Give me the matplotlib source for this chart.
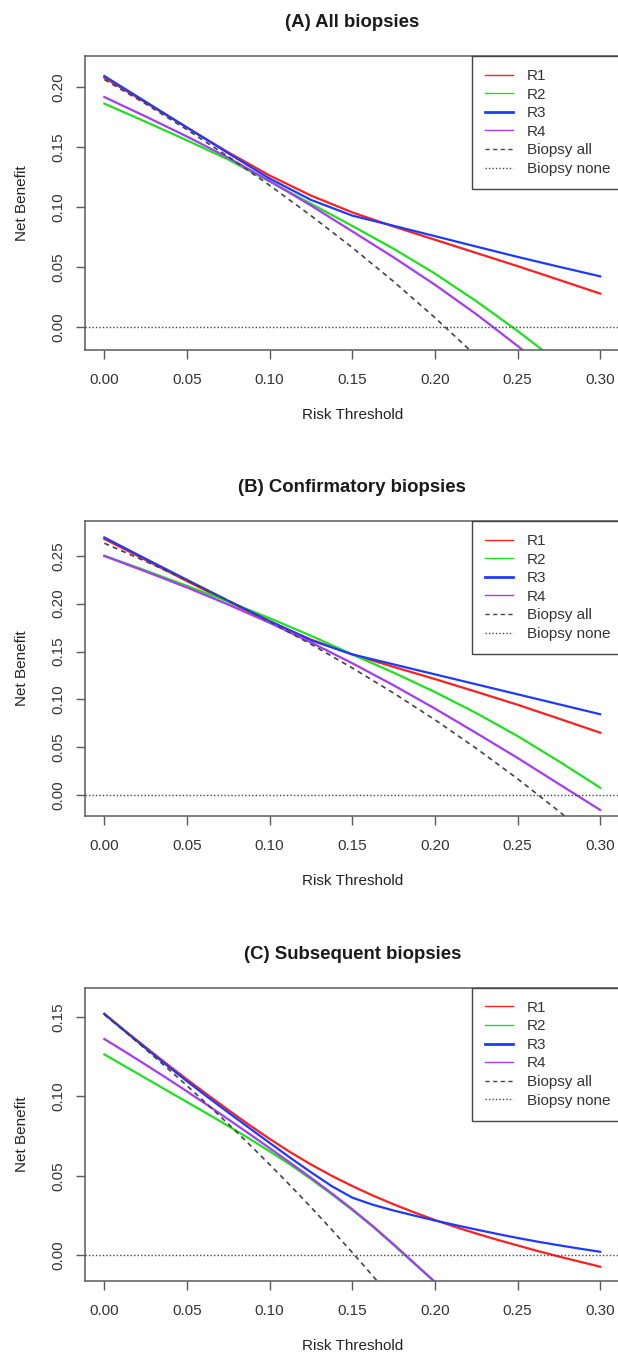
import matplotlib
matplotlib.use("Agg")
import matplotlib.pyplot as plt
from matplotlib.lines import Line2D

plt.rcParams['font.family'] = ['Liberation Sans', 'DejaVu Sans']

# risk thresholds (finer grid for panel C, which bends sharply)
thr = [0.0, 0.025, 0.05, 0.075, 0.10, 0.125, 0.15, 0.175, 0.20, 0.225, 0.25, 0.275, 0.30]
thr_c = [0.0, 0.0125, 0.025, 0.0375, 0.05, 0.0625, 0.075, 0.0875, 0.10, 0.1125, 0.125,
         0.1375, 0.15, 0.1625, 0.175, 0.1875, 0.20, 0.2125, 0.225, 0.2375, 0.25,
         0.2625, 0.275, 0.2875, 0.30]

# (A) All biopsies
a_r1 = [0.208, 0.1873, 0.1665, 0.1458, 0.1265, 0.1098, 0.0958, 0.084, 0.073, 0.062, 0.051, 0.0396, 0.0281]
a_r2 = [0.1864, 0.1713, 0.1558, 0.1398, 0.1215, 0.103, 0.0845, 0.0655, 0.0448, 0.0218, -0.003, -0.0295]
a_r3 = [0.2094, 0.188, 0.1665, 0.145, 0.124, 0.1062, 0.0931, 0.0846, 0.076, 0.0673, 0.0587, 0.0505, 0.0425]
a_r4 = [0.1919, 0.1757, 0.159, 0.1413, 0.122, 0.1015, 0.080, 0.0583, 0.0355, 0.011, -0.0155, -0.043]
a_all = [0.2065, 0.1862, 0.1647, 0.1422, 0.1183, 0.0931, 0.0665, 0.0382, 0.0081, -0.0239]

# (B) Confirmatory biopsies
b_r1 = [0.2675, 0.2455, 0.2235, 0.202, 0.1815, 0.1625, 0.147, 0.134, 0.1213, 0.108, 0.0945, 0.080, 0.0653]
b_r2 = [0.25, 0.2345, 0.2185, 0.202, 0.1848, 0.1665, 0.147, 0.128, 0.1078, 0.0858, 0.0618, 0.0355, 0.0079]
b_r3 = [0.269, 0.2468, 0.2248, 0.203, 0.1818, 0.1618, 0.147, 0.1366, 0.1262, 0.1158, 0.1054, 0.095, 0.0846]
b_r4 = [0.2497, 0.2335, 0.2168, 0.199, 0.180, 0.1595, 0.1378, 0.1148, 0.0905, 0.065, 0.039, 0.0118, -0.0153]
b_all = [0.263, 0.2441, 0.2242, 0.2032, 0.1811, 0.1577, 0.1329, 0.1067, 0.0788, 0.049, 0.0173, -0.0166, -0.0529]

# (C) Subsequent biopsies
c_r1 = [0.152, 0.1414, 0.131, 0.1207, 0.1107, 0.101, 0.0915, 0.0822, 0.0733, 0.0649, 0.0572,
        0.0501, 0.0436, 0.0376, 0.0321, 0.027, 0.0222, 0.0178, 0.0137, 0.0098, 0.0062,
        0.0026, -0.0008, -0.004, -0.0072]
c_r2 = [0.1265, 0.119, 0.1115, 0.104, 0.0965, 0.089, 0.0814, 0.0736, 0.0655, 0.0571, 0.048,
        0.0385, 0.0285, 0.018, 0.0065, -0.0052, -0.0168]
c_r3 = [0.152, 0.1411, 0.1304, 0.1199, 0.1096, 0.0996, 0.0899, 0.0803, 0.0708, 0.0614, 0.0523,
        0.0436, 0.0363, 0.0318, 0.0282, 0.025, 0.0219, 0.019, 0.0162, 0.0135, 0.0109,
        0.0085, 0.0063, 0.0042, 0.0022]
c_r4 = [0.1362, 0.1282, 0.12, 0.1117, 0.1032, 0.0945, 0.0856, 0.0766, 0.0675, 0.0582, 0.0488,
        0.0391, 0.029, 0.0183, 0.0069, -0.0049, -0.0168]
c_all = [0.1515, 0.1408, 0.1297, 0.1184, 0.1068, 0.0949, 0.0827, 0.0701, 0.0572, 0.0439, 0.0303,
         0.0162, 0.0018, -0.0131, -0.0285]

titles = ["(A) All biopsies", "(B) Confirmatory biopsies", "(C) Subsequent biopsies"]
yticks = [[0, 0.05, 0.10, 0.15, 0.20],
          [0, 0.05, 0.10, 0.15, 0.20, 0.25],
          [0, 0.05, 0.10, 0.15]]
ylims = [(-0.0189, 0.2261), (-0.0216, 0.2862), (-0.0162, 0.1685)]
xticks = [0, 0.05, 0.10, 0.15, 0.20, 0.25, 0.30]

panels = [(thr, a_r1, a_r2, a_r3, a_r4, a_all),
          (thr, b_r1, b_r2, b_r3, b_r4, b_all),
          (thr_c, c_r1, c_r2, c_r3, c_r4, c_all)]

cols = {'R1': '#ff1f1f', 'R2': '#1fe01f', 'R3': '#1f3aff', 'R4': '#a43cf0'}
grey = '#444444'
axcol = '#5a5a5a'

W, H = 618, 1359
fig = plt.figure(figsize=(W / 100, H / 100), dpi=100)

# axes boxes in pixels: top, bottom
boxes = [(56, 350), (521, 816), (987.7, 1281)]
left, right = 84.5, 620

for i, (top, bot) in enumerate(boxes):
    ax = fig.add_axes([left / W, 1 - bot / H, (right - left) / W, (bot - top) / H])
    x, r1, r2, r3, r4, allb = panels[i]
    ax.plot(x[:len(r1)], r1, color=cols['R1'], lw=1.6)
    ax.plot(x[:len(r2)], r2, color=cols['R2'], lw=1.6)
    ax.plot(x[:len(r3)], r3, color=cols['R3'], lw=1.6)
    ax.plot(x[:len(r4)], r4, color=cols['R4'], lw=1.6)
    ax.plot(x[:len(allb)], allb, color=grey, lw=1.2, dashes=(3, 2.5))
    ax.axhline(0, color=grey, lw=1.0, dashes=(1, 1.5))

    ax.set_xlim(-0.012, 0.312)
    ax.set_ylim(*ylims[i])
    ax.set_xticks(xticks)
    ax.set_xticklabels([f"{v:.2f}" for v in xticks])
    ax.set_yticks(yticks[i])
    ax.set_yticklabels([f"{v:.2f}" for v in yticks[i]], rotation=90, va='center')

    for s in ax.spines.values():
        s.set_color(axcol)
        s.set_linewidth(1.1)
    ax.tick_params(axis='both', direction='out', length=6.5, width=1.0,
                   color=axcol, labelsize=11, labelcolor='#333333')
    ax.tick_params(axis='x', pad=10)
    ax.tick_params(axis='y', pad=7)

    ax.set_xlabel("Risk Threshold", fontsize=11, color='#222222', labelpad=15.5)
    ax.set_ylabel("Net Benefit", fontsize=11, color='#222222', labelpad=16.5)
    ax.set_title(titles[i], fontsize=13.4, fontweight='bold', color='#1a1a1a', pad=21)

    handles = [Line2D([], [], color=cols['R1'], lw=1.0),
               Line2D([], [], color=cols['R2'], lw=1.0),
               Line2D([], [], color=cols['R3'], lw=2.0),
               Line2D([], [], color=cols['R4'], lw=1.0),
               Line2D([], [], color=grey, lw=1.0, dashes=(3, 2.5)),
               Line2D([], [], color=grey, lw=1.0, dashes=(1, 1.5))]
    leg = ax.legend(handles, ['R1', 'R2', 'R3', 'R4', 'Biopsy all', 'Biopsy none'],
                    loc='upper left', bbox_to_anchor=(472 / W, 1 - top / H),
                    bbox_transform=fig.transFigure, borderaxespad=0,
                    fontsize=11, frameon=True, fancybox=False, framealpha=1,
                    edgecolor='#444444', borderpad=0.85, labelspacing=0.3,
                    handlelength=1.85, handletextpad=0.9)
    leg.get_frame().set_linewidth(1.0)
    for t in leg.get_texts():
        t.set_color('#333333')

plt.savefig('out.png', dpi=100)
